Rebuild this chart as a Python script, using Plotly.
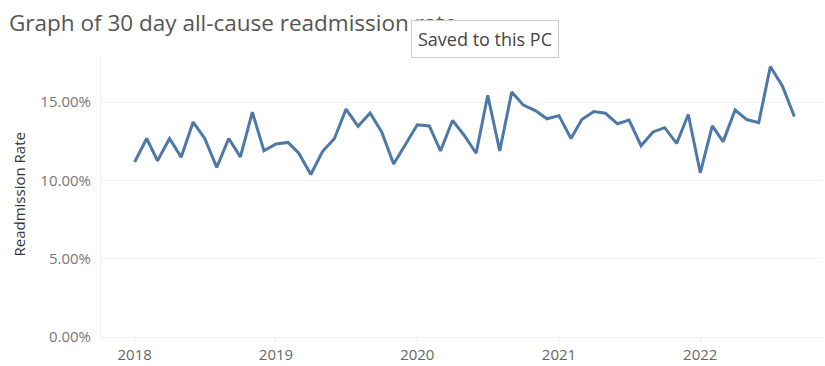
import plotly.graph_objects as go
import pandas as pd

months = pd.date_range("2018-01-01", periods=57, freq="MS").strftime("%Y-%m-%d").tolist()
readmission_rate = [
    11.17, 12.67, 11.25, 12.67, 11.48, 13.72, 12.67, 10.83, 12.67, 11.50, 14.35, 11.88,
    12.32, 12.42, 11.73, 10.37, 11.84, 12.67, 14.55, 13.45, 14.30, 13.09, 11.04, 12.30,
    13.55, 13.47, 11.88, 13.82, 12.88, 11.73, 15.43, 11.88, 15.64, 14.80, 14.45, 13.93,
    14.13, 12.67, 13.88, 14.39, 14.28, 13.61, 13.84, 12.21, 13.09, 13.36, 12.36, 14.20,
    10.48, 13.47, 12.47, 14.49, 13.88, 13.68, 17.27, 16.02, 14.07,
]
rate_frac = [v / 100 for v in readmission_rate]
year_ticks = ["2018-01-01", "2019-01-01", "2020-01-01", "2021-01-01", "2022-01-01"]
year_labels = ["2018", "2019", "2020", "2021", "2022"]
y_ticks = [0, 0.05, 0.10, 0.15]

fig = go.Figure()
fig.add_trace(go.Scatter(
    x=months, y=rate_frac, mode="lines",
    line=dict(color="#4e79a7", width=3),
    hoverinfo="skip",
))

fig.update_layout(
    width=825, height=366,
    margin=dict(l=101, r=2, t=55, b=24),
    paper_bgcolor="white", plot_bgcolor="white",
    showlegend=False,
    font=dict(family="Open Sans", color="#666666"),
    xaxis=dict(
        type="date",
        range=["2017-10-06", "2022-11-14"],
        tickvals=year_ticks, ticktext=year_labels,
        showgrid=False, zeroline=False,
        showline=True, linecolor="#f0f0f0", linewidth=1,
        ticks="outside", ticklen=4, tickcolor="#e6e6e6",
        tickfont=dict(size=15, color="#666666"),
    ),
    yaxis=dict(
        range=[0, 0.18],
        tickvals=y_ticks, tickformat=".2%",
        showgrid=True, gridcolor="#f2f2f2", gridwidth=1,
        zeroline=False,
        showline=True, linecolor="#f0f0f0", linewidth=1,
        ticks="", ticklabelstandoff=6,
        tickfont=dict(size=15, color="#777777"),
    ),
    annotations=[
        dict(
            text="Graph of 30 day all-cause readmission rate",
            xref="paper", yref="paper",
            x=-101 / 722 + 7 / 722, y=(366 - 24 - 22) / 287,
            xanchor="left", yanchor="middle", showarrow=False,
            font=dict(family="Open Sans", size=22.5, color="#555555"),
        ),
        dict(
            text="Readmission Rate", textangle=-90,
            xref="paper", yref="paper", x=-82 / 722, y=(342 - 197) / 287,
            xanchor="center", yanchor="middle", showarrow=False,
            font=dict(family="Open Sans", size=15, color="#333333"),
        ),
        dict(
            text="Saved to this PC",
            xref="paper", yref="paper",
            x=(484.5 - 101) / 722, y=(342 - 38.5) / 287,
            xanchor="center", yanchor="middle", showarrow=False,
            font=dict(family="Open Sans", size=18, color="#444444"),
            bgcolor="white", bordercolor="#cccccc", borderwidth=1, borderpad=6,
        ),
    ],
)

fig.write_html("out.html")
